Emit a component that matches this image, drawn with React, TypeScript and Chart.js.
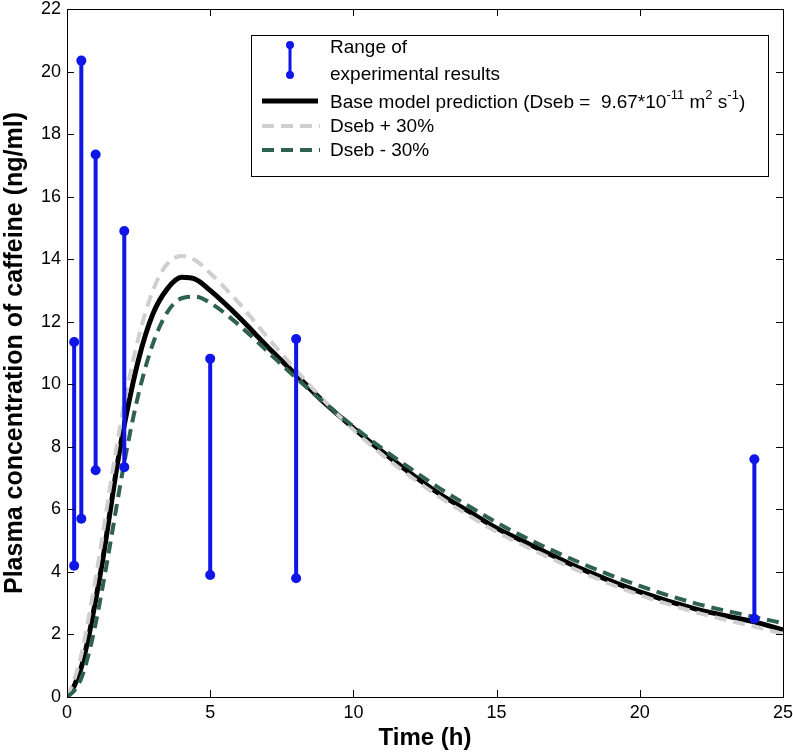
import { useEffect, useRef } from "react";
import { Chart, registerables } from "chart.js";

Chart.register(...registerables);

const FONT = "'Liberation Sans', Arial, Helvetica, sans-serif";

// Model time grid (h)
const TIME = [0, 0.25, 0.5, 0.75, 1, 1.25, 1.5, 1.75, 2, 2.5, 3, 3.5, 4, 4.5, 5, 6, 7, 8, 9, 10, 11, 12, 13, 14, 15, 16, 18, 20, 22, 24, 25];
// Base model prediction (ng/ml)
const BASE = [0, 0.35, 0.95, 1.9, 3.1, 4.4, 5.9, 7.4, 8.7, 10.8, 12.25, 13.05, 13.42, 13.35, 13.0, 12.15, 11.2, 10.3, 9.4, 8.6, 7.85, 7.15, 6.5, 5.95, 5.4, 4.95, 4.08, 3.36, 2.8, 2.4, 2.15];
// Dseb + 30%
const PLUS30 = [0, 0.55, 1.35, 2.5, 3.8, 5.2, 6.7, 8.1, 9.4, 11.5, 13.0, 13.85, 14.1, 13.95, 13.55, 12.6, 11.5, 10.45, 9.45, 8.55, 7.75, 7.05, 6.4, 5.82, 5.28, 4.82, 3.98, 3.26, 2.7, 2.25, 2.02];
// Dseb - 30%
const MINUS30 = [0, 0.2, 0.6, 1.35, 2.35, 3.55, 4.85, 6.2, 7.5, 9.7, 11.3, 12.3, 12.75, 12.8, 12.6, 11.9, 11.05, 10.2, 9.4, 8.65, 7.95, 7.3, 6.68, 6.12, 5.58, 5.1, 4.26, 3.55, 2.98, 2.56, 2.36];

// Range of experimental results
const EXP_TIME = [0.25, 0.5, 1, 2, 5, 8, 24];
const EXP_LOW = [4.2, 5.7, 7.25, 7.35, 3.9, 3.8, 2.5];
const EXP_HIGH = [11.35, 20.35, 17.35, 14.9, 10.82, 11.45, 7.6];

const X_TICKS = [0, 5, 10, 15, 20, 25];
const Y_TICKS = [0, 2, 4, 6, 8, 10, 12, 14, 16, 18, 20, 22];

const BLUE = "#1016e8";
const GRAY = "#cfcfcf";
const GREEN = "#2f6150";

const frameAndLegend = {
  id: "frameAndLegend",
  afterDraw(chart: any) {
    const ctx = chart.ctx as CanvasRenderingContext2D;
    const { left, right, top, bottom } = chart.chartArea;
    const xs = chart.scales.x;
    const ys = chart.scales.y;
    ctx.save();
    ctx.strokeStyle = "#000";
    ctx.lineWidth = 1;
    ctx.strokeRect(Math.round(left) + 0.5, Math.round(top) + 0.5, Math.round(right - left), Math.round(bottom - top));
    const TL = 7;
    ctx.beginPath();
    X_TICKS.forEach((v) => {
      const px = Math.round(xs.getPixelForValue(v)) + 0.5;
      ctx.moveTo(px, bottom);
      ctx.lineTo(px, bottom - TL);
      ctx.moveTo(px, top);
      ctx.lineTo(px, top + TL);
    });
    Y_TICKS.forEach((v) => {
      const py = Math.round(ys.getPixelForValue(v)) + 0.5;
      ctx.moveTo(left, py);
      ctx.lineTo(left + TL, py);
      ctx.moveTo(right, py);
      ctx.lineTo(right - TL, py);
    });
    ctx.stroke();

    // Legend
    const bx = 251, by = 35, bw = 517, bh = 141;
    ctx.fillStyle = "#fff";
    ctx.fillRect(bx, by, bw, bh);
    ctx.strokeStyle = "#000";
    ctx.strokeRect(bx + 0.5, by + 0.5, bw, bh);

    const tx = 330;
    // error bar symbol
    ctx.strokeStyle = BLUE;
    ctx.fillStyle = BLUE;
    ctx.lineWidth = 3;
    ctx.beginPath();
    ctx.moveTo(290, 45);
    ctx.lineTo(290, 75);
    ctx.stroke();
    ctx.beginPath();
    ctx.arc(290, 45, 4, 0, Math.PI * 2);
    ctx.arc(290, 75, 4, 0, Math.PI * 2);
    ctx.fill();

    ctx.fillStyle = "#000";
    ctx.textBaseline = "middle";
    ctx.textAlign = "left";
    const fs = 19;
    ctx.font = `${fs}px ${FONT}`;
    ctx.fillText("Range of", tx, 48);
    ctx.fillText("experimental results", tx, 75);

    // base model line
    ctx.strokeStyle = "#000";
    ctx.lineWidth = 5;
    ctx.beginPath();
    ctx.moveTo(262, 101);
    ctx.lineTo(318, 101);
    ctx.stroke();
    // text with superscripts
    let cx = tx;
    const y0 = 103;
    const part = (t: string, sup: boolean) => {
      ctx.font = sup ? `${13}px ${FONT}` : `${fs}px ${FONT}`;
      ctx.fillText(t, cx, sup ? y0 - 8 : y0);
      cx += ctx.measureText(t).width;
    };
    part("Base model prediction (Dseb =  9.67*10", false);
    part("-11", true);
    part(" m", false);
    part("2", true);
    part(" s", false);
    part("-1", true);
    part(")", false);

    // dashed samples
    ctx.lineWidth = 4;
    ctx.setLineDash([12, 7]);
    ctx.strokeStyle = GRAY;
    ctx.beginPath();
    ctx.moveTo(262, 126);
    ctx.lineTo(320, 126);
    ctx.stroke();
    ctx.strokeStyle = GREEN;
    ctx.beginPath();
    ctx.moveTo(262, 150);
    ctx.lineTo(320, 150);
    ctx.stroke();
    ctx.setLineDash([]);
    ctx.font = `${fs}px ${FONT}`;
    ctx.fillStyle = "#000";
    ctx.fillText("Dseb + 30%", tx, 127);
    ctx.fillText("Dseb - 30%", tx, 151);
    ctx.restore();
  },
};

export default function App() {
  const ref = useRef<HTMLCanvasElement>(null);
  useEffect(() => {
    document.body.style.margin = "0";
    const curve = (vals: number[]) => TIME.map((t, i) => ({ x: t, y: vals[i] }));
    const bars = EXP_TIME.map((t, i) => ({
      type: "line" as const,
      label: "Range of experimental results",
      data: [
        { x: t, y: EXP_LOW[i] },
        { x: t, y: EXP_HIGH[i] },
      ],
      borderColor: BLUE,
      backgroundColor: BLUE,
      borderWidth: 4,
      pointRadius: 5,
      pointBackgroundColor: BLUE,
      pointBorderWidth: 0,
      showLine: true,
    }));
    const chart = new Chart(ref.current!, {
      type: "line",
      data: {
        datasets: [
          ...bars,
          {
            label: "Dseb - 30%",
            data: curve(MINUS30),
            borderColor: GREEN,
            borderWidth: 4,
            borderDash: [12, 7],
            pointRadius: 0,
            cubicInterpolationMode: "monotone",
          },
          {
            label: "Dseb + 30%",
            data: curve(PLUS30),
            borderColor: GRAY,
            borderWidth: 4,
            borderDash: [12, 7],
            pointRadius: 0,
            cubicInterpolationMode: "monotone",
          },
          {
            label: "Base model prediction",
            data: curve(BASE),
            borderColor: "#000",
            borderWidth: 5,
            pointRadius: 0,
            cubicInterpolationMode: "monotone",
          },
        ] as any,
      },
      options: {
        animation: false,
        responsive: false,
        devicePixelRatio: 1,
        layout: { padding: { top: 9, right: 0, left: 0, bottom: 0 } },
        plugins: { legend: { display: false }, tooltip: { enabled: false } },
        scales: {
          x: {
            type: "linear",
            min: 0,
            max: 25,
            afterBuildTicks: (s: any) => {
              s.ticks = X_TICKS.map((v) => ({ value: v }));
            },
            afterFit: (s: any) => {
              s.height = 56;
              s.paddingLeft = 0;
              s.paddingRight = 10;
            },
            grid: { display: false, drawTicks: false },
            border: { display: false },
            ticks: { color: "#000", font: { family: FONT, size: 18 }, padding: 5, maxRotation: 0 },
            title: {
              display: true,
              text: "Time (h)",
              color: "#000",
              font: { family: FONT, size: 24, weight: "bold" },
              padding: { top: 0, bottom: 0 },
            },
          },
          y: {
            type: "linear",
            min: 0,
            max: 22,
            afterBuildTicks: (s: any) => {
              s.ticks = Y_TICKS.map((v) => ({ value: v }));
            },
            afterFit: (s: any) => {
              s.width = 67;
              s.paddingTop = 0;
              s.paddingBottom = 0;
            },
            grid: { display: false, drawTicks: false },
            border: { display: false },
            ticks: { color: "#000", font: { family: FONT, size: 18 }, padding: 6 },
            title: {
              display: true,
              text: "Plasma concentration of caffeine (ng/ml)",
              color: "#000",
              font: { family: FONT, size: 25, weight: "bold" },
              padding: { top: 0, bottom: 0 },
            },
          },
        },
      },
      plugins: [frameAndLegend],
    });
    return () => chart.destroy();
  }, []);
  return (
    <div style={{ width: 793, height: 753 }}>
      <canvas ref={ref} width={793} height={753} style={{ display: "block" }} />
    </div>
  );
}
